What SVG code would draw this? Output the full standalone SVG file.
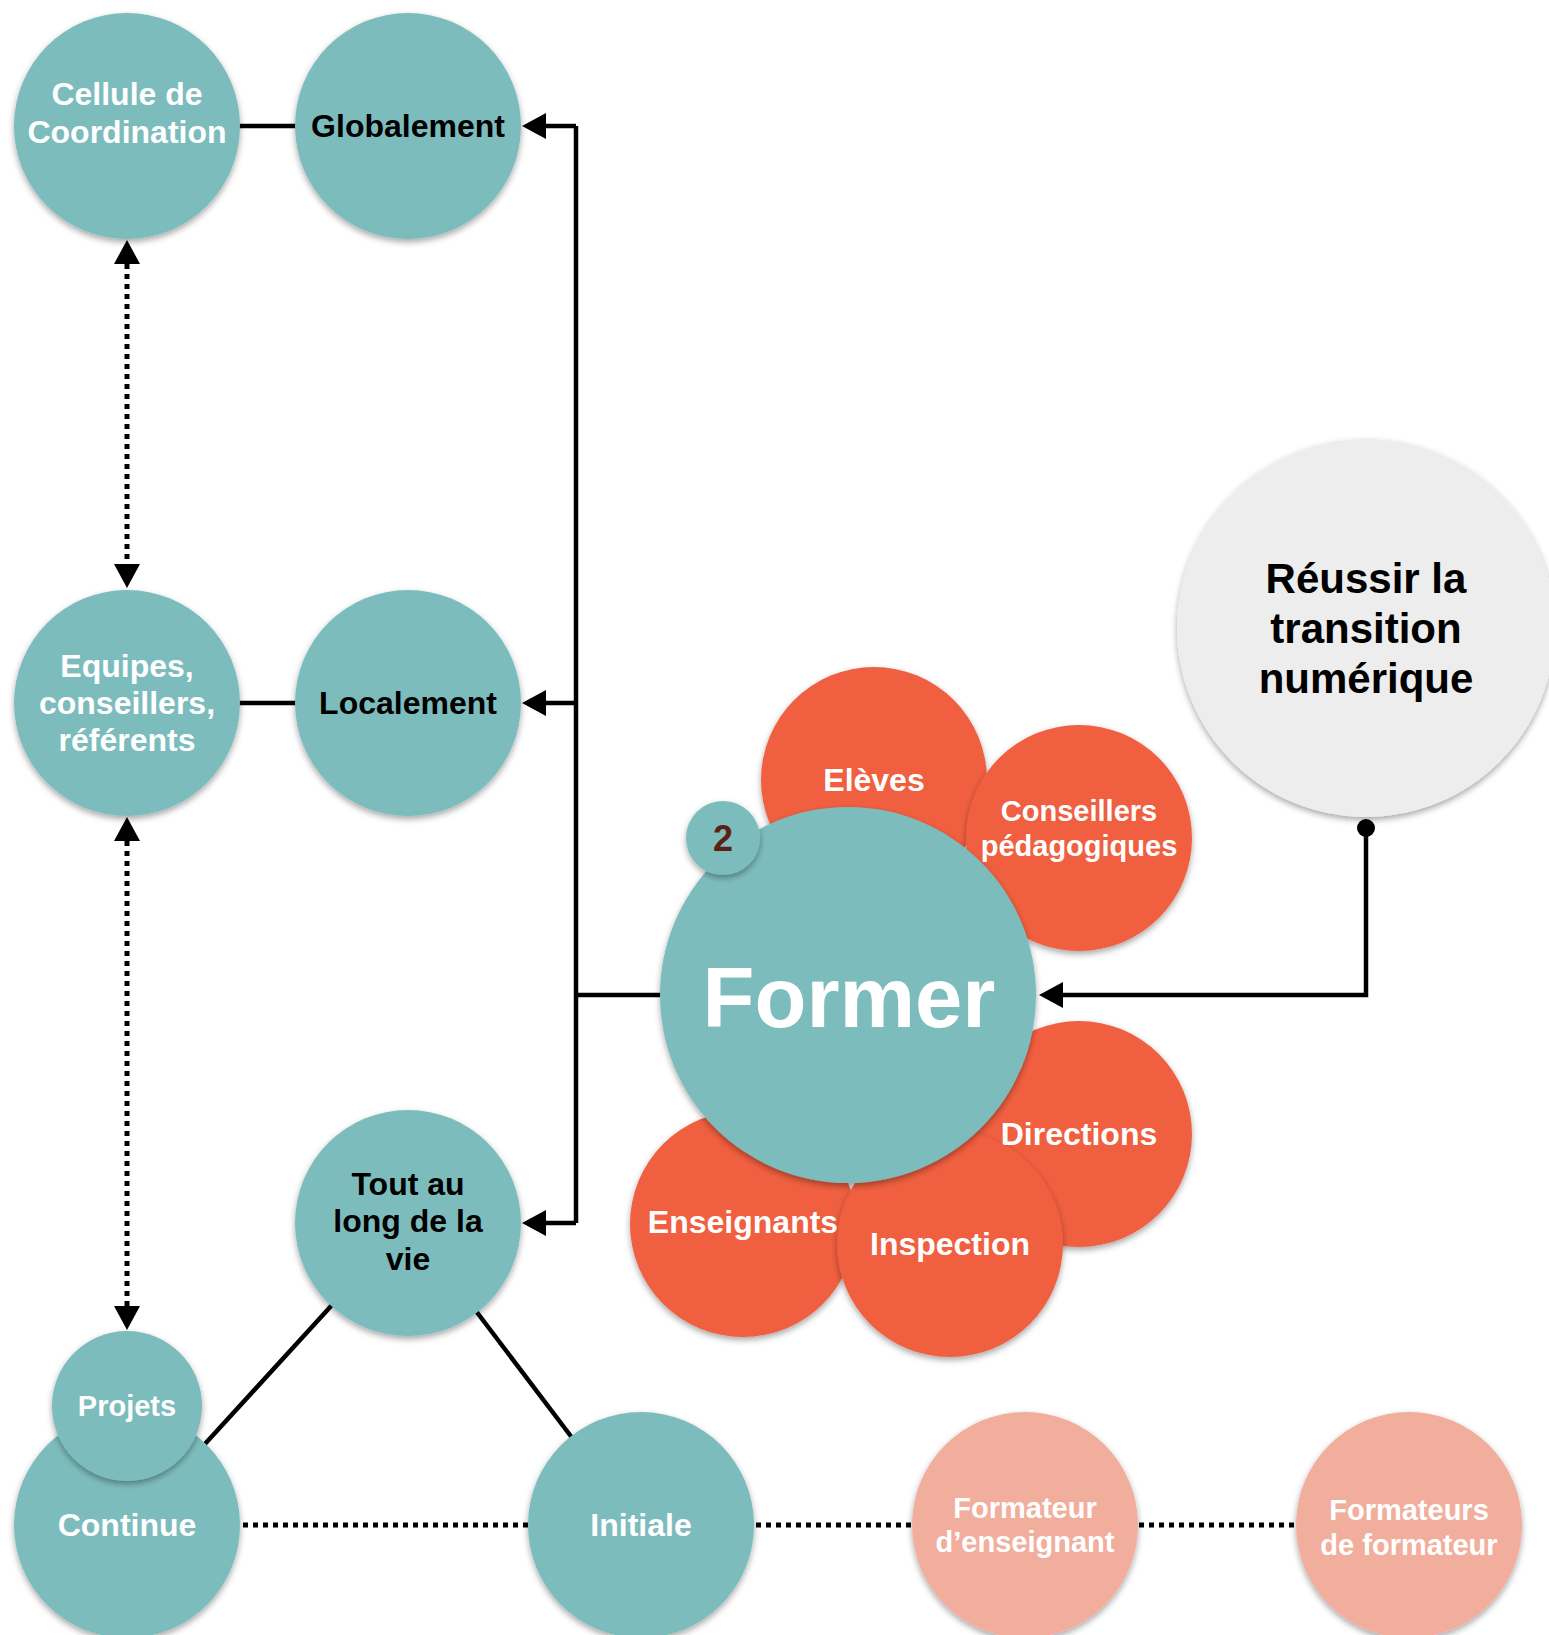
<svg xmlns="http://www.w3.org/2000/svg" width="1549" height="1635" viewBox="0 0 1549 1635">
<defs>
<style>
.t{font-family:"Liberation Sans",Arial,Helvetica,sans-serif;font-weight:bold;text-anchor:middle}
.w{fill:#ffffff}
.k{fill:#000000}
.teal{fill:#7DBCBD}
.red{fill:#F05F40}
.sal{fill:#F2AE9D}
.grey{fill:#EDEDED}
.sh{filter:url(#ds)}
.ln{fill:none;stroke:#000;stroke-width:4.5}
.dot{fill:none;stroke:#000;stroke-width:5;stroke-dasharray:5 5}
</style>
<filter id="ds" x="-20%" y="-20%" width="140%" height="140%">
<feDropShadow dx="0" dy="3" stdDeviation="3" flood-color="#000" flood-opacity="0.35"/>
</filter>
<marker id="arr" markerUnits="userSpaceOnUse" markerWidth="26" markerHeight="26" refX="0" refY="13" orient="auto-start-reverse">
<path d="M0,0 L24,13 L0,26 Z" fill="#000"/>
</marker>
<marker id="ball" markerUnits="userSpaceOnUse" markerWidth="20" markerHeight="20" refX="10" refY="10" orient="auto">
<circle cx="10" cy="10" r="9" fill="#000"/>
</marker>
</defs>
<rect width="1549" height="1635" fill="#ffffff"/>

<g id="connectors">
<line class="ln" x1="238" y1="126" x2="298" y2="126"/>
<line class="ln" x1="238" y1="703" x2="298" y2="703"/>
<path class="ln" d="M576,126 L576,1223"/>
<path class="ln" d="M576,126 L546,126" marker-end="url(#arr)"/>
<path class="ln" d="M576,703 L546,703" marker-end="url(#arr)"/>
<path class="ln" d="M576,1223 L546,1223" marker-end="url(#arr)"/>
<path class="ln" d="M574,995 L662,995"/>
<path class="ln" d="M1366,828 L1366,995 L1063,995" marker-start="url(#ball)" marker-end="url(#arr)"/>
<path class="dot" d="M127,264 L127,564" marker-start="url(#arr)" marker-end="url(#arr)"/>
<path class="dot" d="M127,841 L127,1306" marker-start="url(#arr)" marker-end="url(#arr)"/>
<line class="ln" x1="332" y1="1305" x2="204" y2="1445"/>
<line class="ln" x1="476" y1="1311" x2="573" y2="1439"/>
<line class="dot" x1="243" y1="1525" x2="528" y2="1525"/>
<line class="dot" x1="756" y1="1525" x2="912" y2="1525"/>
<line class="dot" x1="1139" y1="1525" x2="1297" y2="1525"/>
</g>

<g id="cellule">
<circle class="teal sh" cx="127" cy="126" r="113"/>
<text class="t w" x="127" y="105" font-size="32">Cellule de</text>
<text class="t w" x="127" y="143" font-size="32">Coordination</text>
</g>
<g id="globalement">
<circle class="teal sh" cx="408" cy="126" r="113"/>
<text class="t k" x="408" y="137" font-size="32">Globalement</text>
</g>
<g id="equipes">
<circle class="teal sh" cx="127" cy="703" r="113"/>
<text class="t w" x="127" y="677" font-size="32">Equipes,</text>
<text class="t w" x="127" y="714" font-size="32">conseillers,</text>
<text class="t w" x="127" y="751" font-size="32">référents</text>
</g>
<g id="localement">
<circle class="teal sh" cx="408" cy="703" r="113"/>
<text class="t k" x="408" y="714" font-size="32">Localement</text>
</g>
<g id="tout-au-long">
<circle class="teal sh" cx="408" cy="1223" r="113"/>
<text class="t k" x="408" y="1195" font-size="32">Tout au</text>
<text class="t k" x="408" y="1232" font-size="32">long de la</text>
<text class="t k" x="408" y="1270" font-size="32">vie</text>
</g>
<g id="continue">
<circle class="teal sh" cx="127" cy="1525" r="113"/>
<text class="t w" x="127" y="1536" font-size="32">Continue</text>
</g>
<g id="projets">
<circle class="teal sh" cx="127" cy="1406" r="75"/>
<text class="t w" x="127" y="1416" font-size="29">Projets</text>
</g>
<g id="initiale">
<circle class="teal sh" cx="641" cy="1525" r="113"/>
<text class="t w" x="641" y="1536" font-size="32">Initiale</text>
</g>
<g id="formateur-enseignant">
<circle class="sal sh" cx="1025" cy="1525" r="113"/>
<text class="t w" x="1025" y="1518" font-size="29">Formateur</text>
<text class="t w" x="1025" y="1552" font-size="29">d’enseignant</text>
</g>
<g id="formateurs-formateur">
<circle class="sal sh" cx="1409" cy="1525" r="113"/>
<text class="t w" x="1409" y="1520" font-size="29">Formateurs</text>
<text class="t w" x="1409" y="1555" font-size="29">de formateur</text>
</g>
<g id="reussir">
<circle class="grey sh" cx="1366" cy="628" r="189"/>
<text class="t k" x="1366" y="593" font-size="42">Réussir la</text>
<text class="t k" x="1366" y="643" font-size="42">transition</text>
<text class="t k" x="1366" y="693" font-size="42">numérique</text>
</g>
<g id="eleves">
<circle class="red sh" cx="874" cy="780" r="113"/>
<text class="t w" x="874" y="791" font-size="32">Elèves</text>
</g>
<g id="conseillers">
<circle class="red sh" cx="1079" cy="838" r="113"/>
<text class="t w" x="1079" y="821" font-size="29">Conseillers</text>
<text class="t w" x="1079" y="856" font-size="29">pédagogiques</text>
</g>
<g id="directions">
<circle class="red sh" cx="1079" cy="1134" r="113"/>
<text class="t w" x="1079" y="1145" font-size="32">Directions</text>
</g>
<g id="enseignants">
<circle class="red sh" cx="743" cy="1224" r="113"/>
<text class="t w" x="743" y="1233" font-size="32">Enseignants</text>
</g>
<g id="inspection">
<circle class="red sh" cx="950" cy="1244" r="113"/>
<text class="t w" x="950" y="1255" font-size="32">Inspection</text>
</g>
<g id="former">
<circle class="teal sh" cx="848" cy="995" r="188"/>
<text class="t w" x="849" y="1027" font-size="85">Former</text>
</g>
<g id="badge-2">
<circle class="teal sh" cx="723" cy="838" r="37"/>
<text class="t" x="723" y="851" font-size="36" fill="#5C1F14">2</text>
</g>
</svg>
